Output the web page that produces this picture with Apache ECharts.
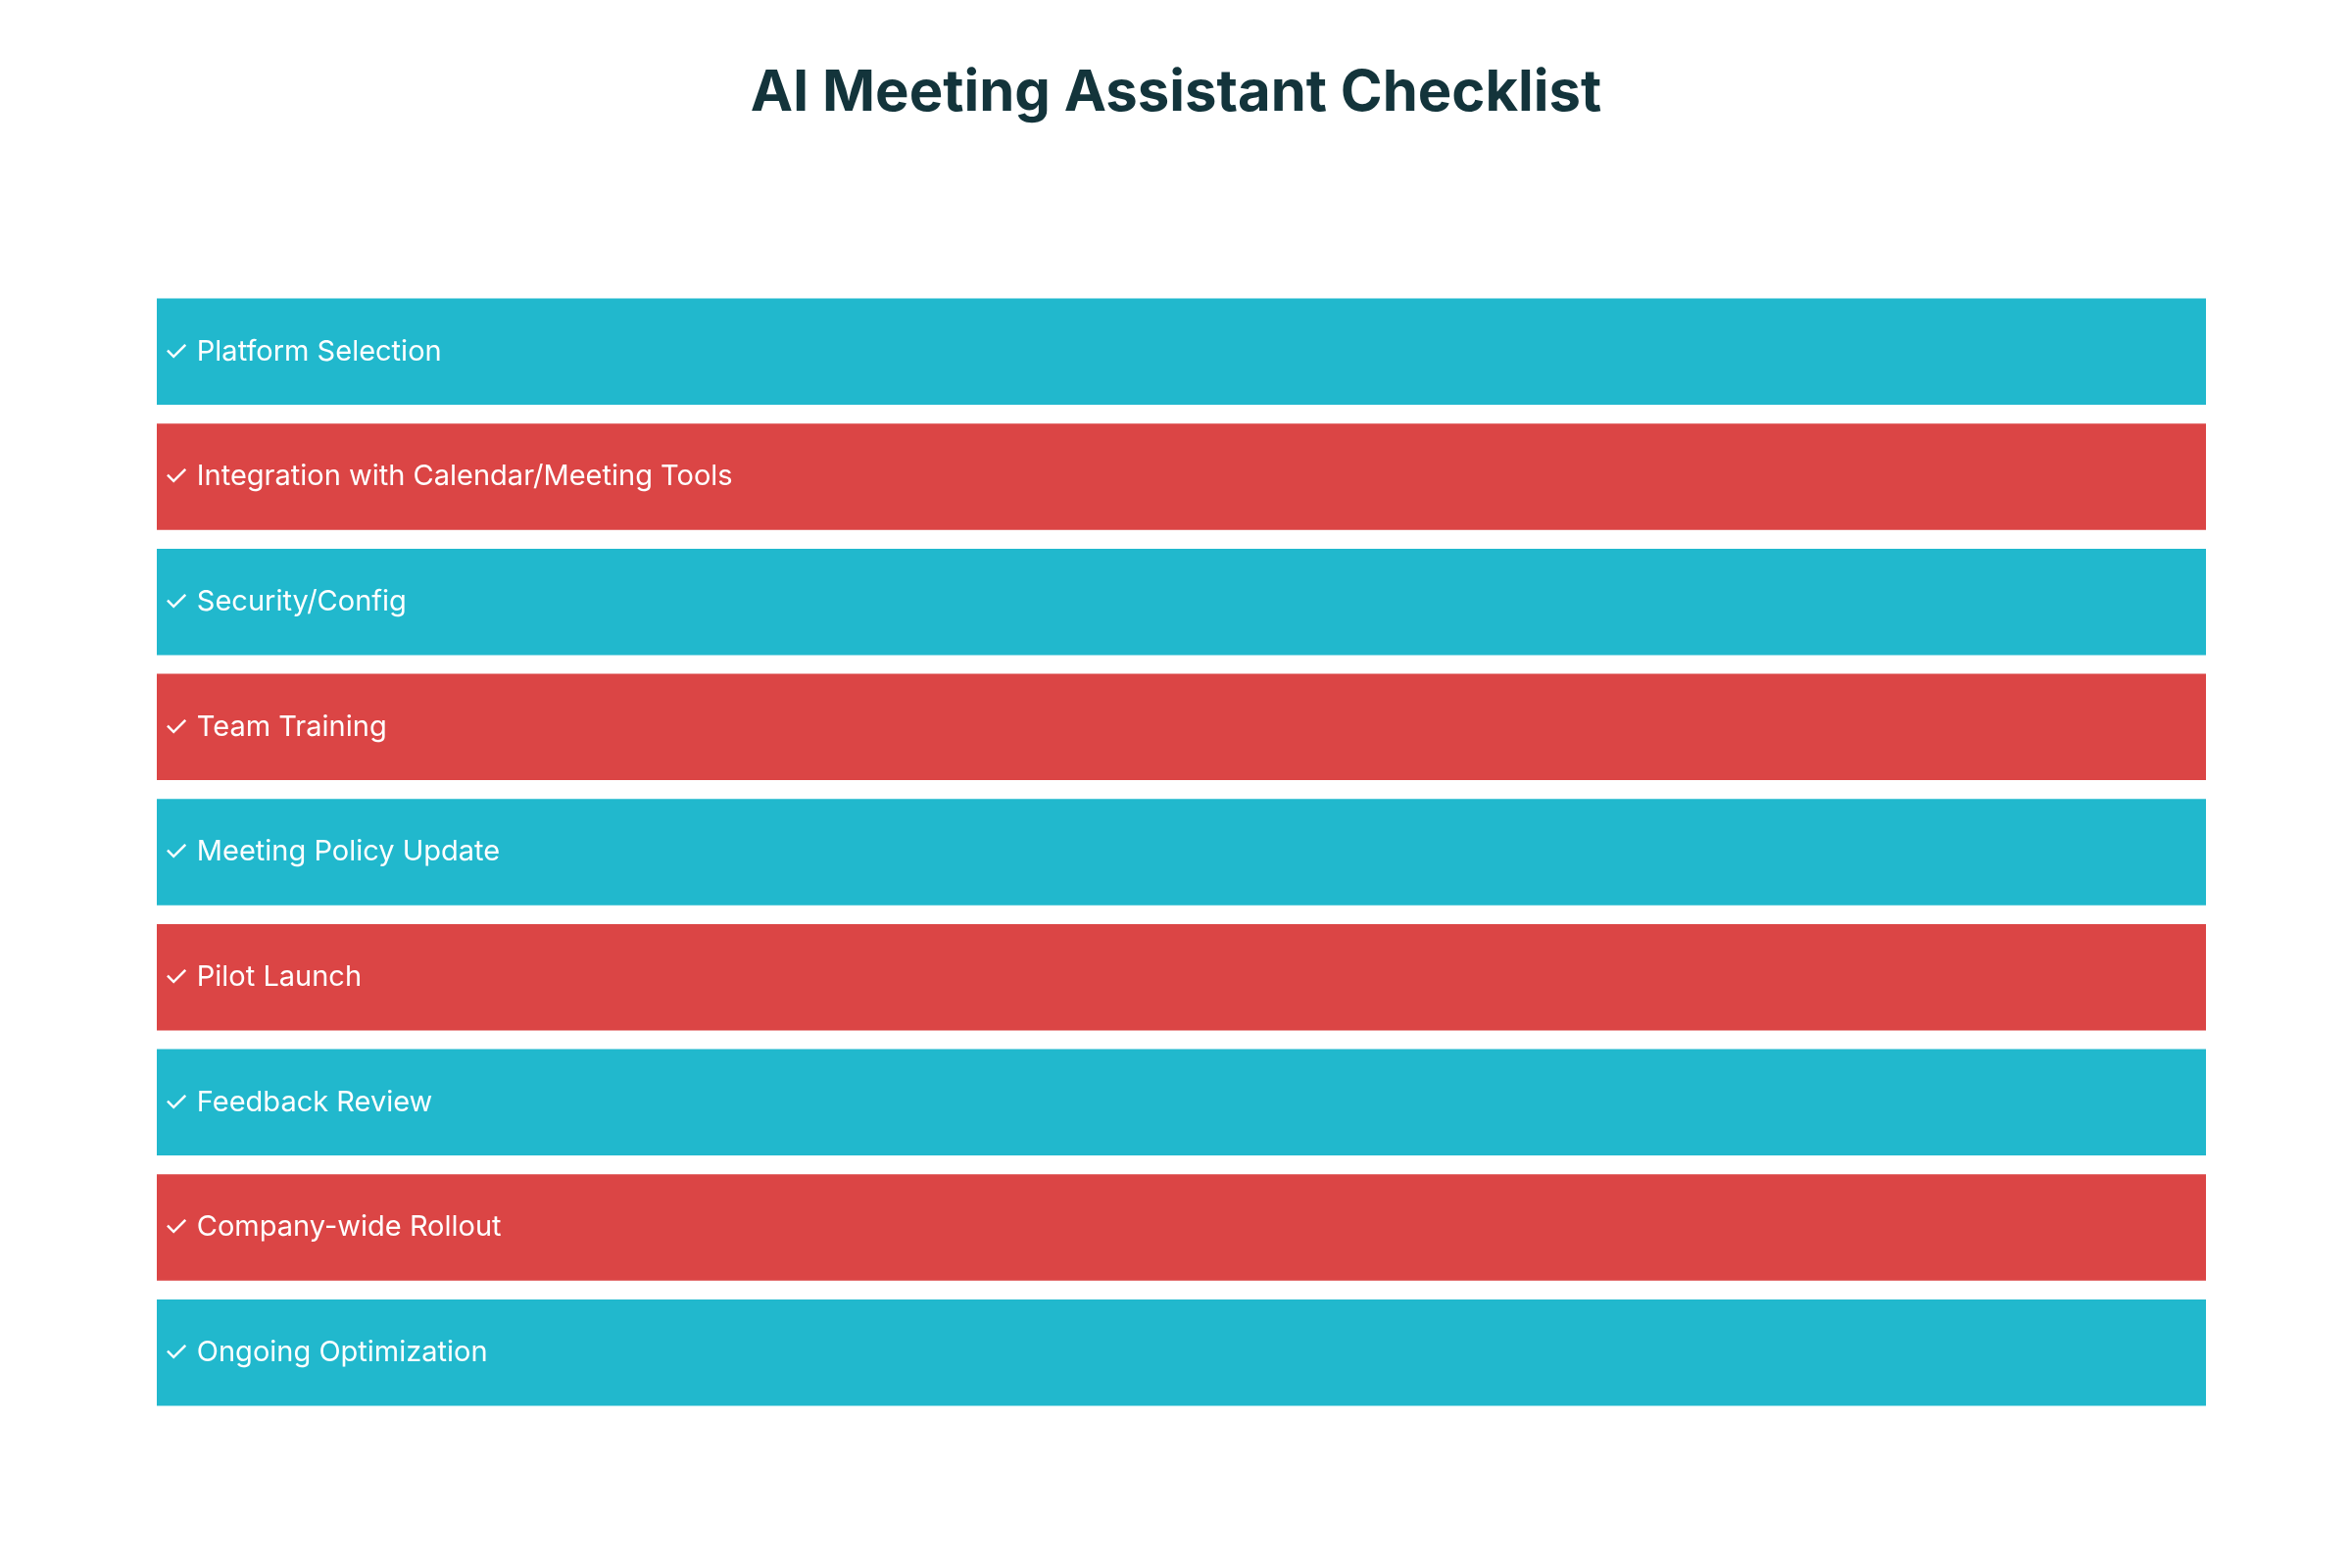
<!DOCTYPE html>
<html>
<head>
<meta charset="utf-8">
<script src="https://cdn.jsdelivr.net/npm/echarts@6/dist/echarts.min.js"></script>
<style>
html, body { margin: 0; padding: 0; background: #fff; }
#chart { width: 2400px; height: 1600px; }
</style>
</head>
<body>
<div id="chart"></div>
<script>
var steps = ['Platform Selection', 'Integration with Calendar/Meeting Tools', 'Security/Config',
	'Team Training', 'Meeting Policy Update', 'Pilot Launch', 'Feedback Review',
	'Company-wide Rollout', 'Ongoing Optimization'];
var done = [1, 1, 1, 1, 1, 1, 1, 1, 1];
var colors = ['#21B8CD', '#DB4545'];

var chart = echarts.init(document.getElementById('chart'));

var barData = [];
for (var i = 0; i < steps.length; i++) {
	barData.push({
		value: done[i],
		itemStyle: { color: colors[i % 2] }
	});
}

chart.setOption({
	backgroundColor: '#ffffff',
	title: {
		text: 'AI Meeting Assistant Checklist',
		left: 'center',
		top: 62,
		textStyle: {
			fontFamily: 'Inter, "Noto Sans", sans-serif',
			fontSize: 58,
			fontWeight: 'bold',
			color: '#13343B'
		}
	},
	grid: { left: 160, right: 149, top: 295, bottom: 156 },
	xAxis: { type: 'value', min: 0, max: 1, show: false },
	yAxis: {
		type: 'category',
		inverse: true,
		data: steps,
		show: false
	},
	series: [{
		type: 'bar',
		data: barData,
		barCategoryGap: '15%',
		animation: false,
		label: {
			show: true,
			position: 'insideLeft',
			distance: 7,
			color: '#ffffff',
			fontFamily: 'Inter, "Noto Sans", "DejaVu Sans", sans-serif',
			fontSize: 29,
			formatter: function (p) { return '\u2713 ' + p.name; }
		}
	}]
});
</script>
</body>
</html>
